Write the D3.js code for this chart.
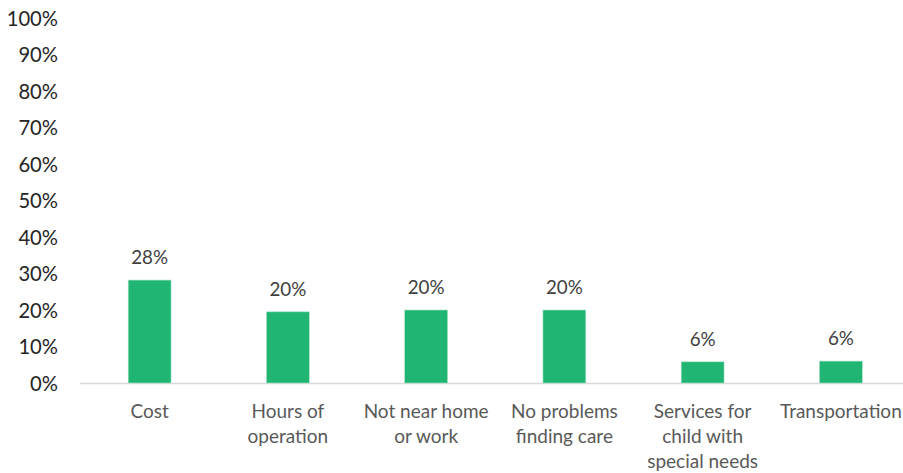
<!DOCTYPE html>
<html><head><meta charset="utf-8">
<script src="https://cdn.jsdelivr.net/npm/d3@7"></script>
<style>body{margin:0;background:#fff}</style>
</head><body>
<svg id="c" width="903" height="473"></svg>
<script>
const categories = [["Cost"],["Hours of","operation"],["Not near home","or work"],["No problems","finding care"],["Services for","child with","special needs"],["Transportation"]];
const values = [28.2, 19.5, 20.0, 20.0, 5.8, 6.0];
const valueLabels = ["28%","20%","20%","20%","6%","6%"];
const yTicks = [0,10,20,30,40,50,60,70,80,90,100];

const svg = d3.select("#c");
const font = "Lato, 'Open Sans', sans-serif";
const x = d3.scaleBand().domain(d3.range(categories.length)).range([80.5, 910]).paddingInner(0.69).paddingOuter(0.345);
const y = d3.scaleLinear().domain([0,100]).range([383, 18]);

// axis line
svg.append("line").attr("x1",80).attr("x2",903).attr("y1",y(0)+0.5).attr("y2",y(0)+0.5)
  .attr("stroke","#d9d9d9").attr("stroke-width",1.5);

// y axis labels
const yAxis = d3.axisLeft(y).tickValues(yTicks).tickFormat(d=>d+"%").tickSize(0).tickPadding(0);
const ga = svg.append("g").attr("transform","translate(58,0)").call(yAxis);
ga.select(".domain").remove();
ga.selectAll("text").attr("font-family",font).attr("font-size",20.2).attr("fill","#262626").attr("dy","0.36em");

// bars
svg.selectAll("rect.bar").data(values).join("rect").attr("class","bar")
  .attr("x",(d,i)=>x(i)).attr("width",x.bandwidth())
  .attr("y",d=>y(d)).attr("height",d=>y(0)-y(d))
  .attr("fill","#21b573").attr("stroke","#a6e3c6").attr("stroke-width",0.6);

// value labels
svg.selectAll("text.val").data(values).join("text").attr("class","val")
  .attr("x",(d,i)=>x(i)+x.bandwidth()/2).attr("y",d=>y(d)-16)
  .attr("text-anchor","middle").attr("font-family",font).attr("font-size",18.8).attr("fill","#404040")
  .text((d,i)=>valueLabels[i]);

// category labels
const cg = svg.selectAll("text.cat").data(categories).join("text").attr("class","cat")
  .attr("text-anchor","middle").attr("font-family",font).attr("font-size",19).attr("fill","#595959");
cg.each(function(lines,i){
  const t = d3.select(this);
  lines.forEach((l,j)=>{
    t.append("tspan").attr("x",x(i)+x.bandwidth()/2).attr("y",418+j*25).text(l);
  });
});
</script>
</body></html>
